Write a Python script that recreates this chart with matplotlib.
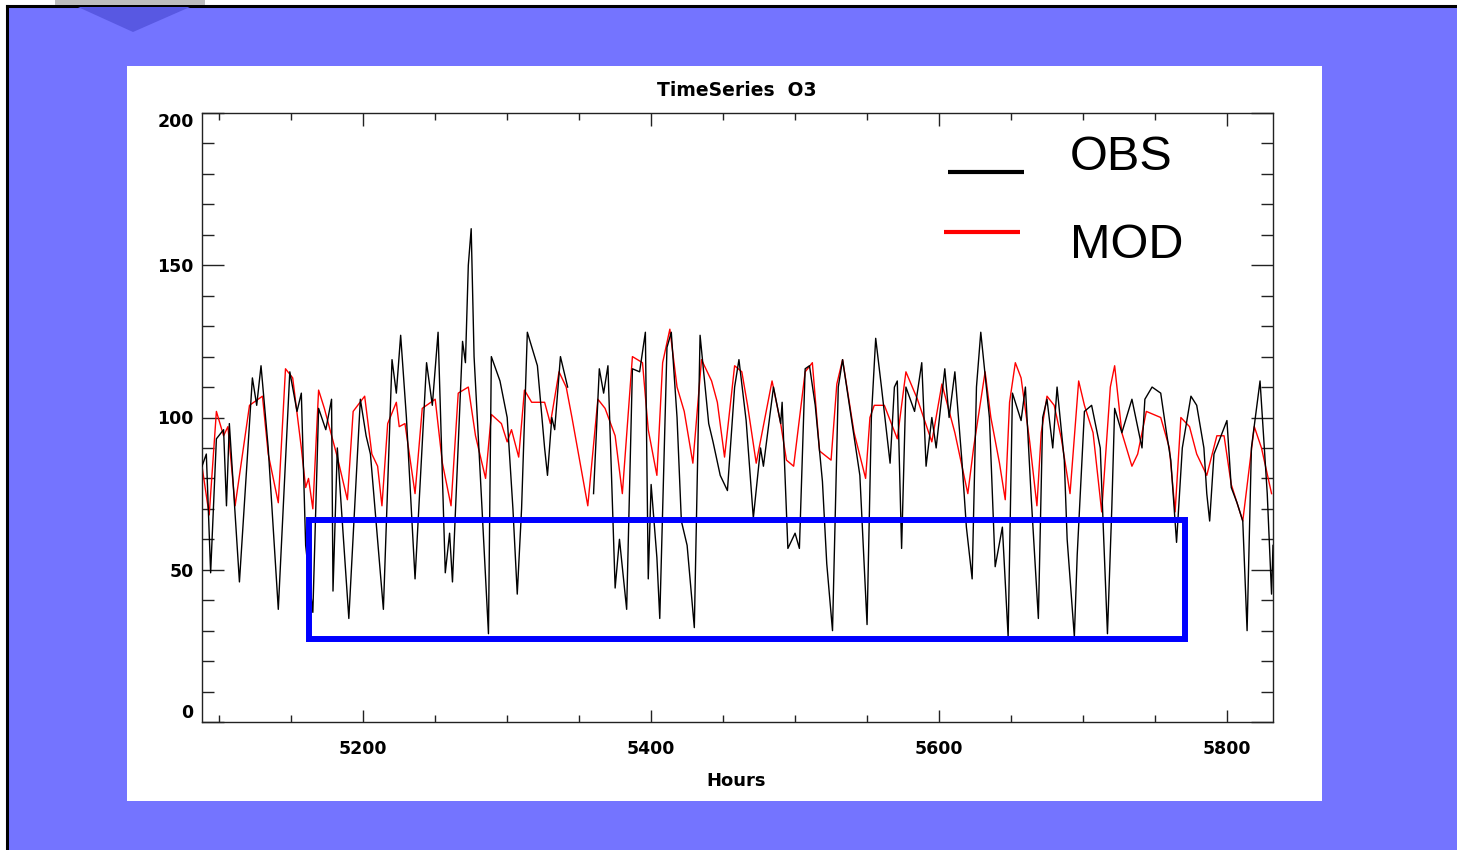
import numpy as np
import matplotlib
matplotlib.use("Agg")
import matplotlib.pyplot as plt
from matplotlib.patches import Rectangle, Polygon
from matplotlib.lines import Line2D
from matplotlib.ticker import MultipleLocator

# ================= data =================
obs_hours = [5088, 5091, 5094, 5098, 5103, 5105, 5107, 5114, 5123, 5126, 5129, 5134, 5141,
             5149, 5154, 5157, 5160, 5165, 5169, 5174, 5178, 5179, 5182, 5190, 5198, 5202,
             5205, 5214, 5220, 5223, 5226, 5230, 5236, 5244, 5248, 5252, 5257, 5260, 5262,
             5269, 5271, 5273, 5275, 5277, 5281, 5287, 5289, 5295, 5300, 5304, 5307, 5310,
             5314, 5321, 5326, 5328, 5331, 5333, 5337, 5342, 5350, 5360, 5364, 5367, 5370,
             5375, 5378, 5383, 5387, 5392, 5396, 5398, 5400, 5404, 5406, 5411, 5414, 5418,
             5421, 5425, 5430, 5434, 5440, 5443, 5448, 5453, 5458, 5461, 5466, 5471, 5476,
             5478, 5485, 5490, 5491, 5495, 5500, 5503, 5507, 5510, 5514, 5519, 5522, 5526,
             5530, 5533, 5539, 5545, 5550, 5553, 5556, 5560, 5566, 5569, 5571, 5574, 5577,
             5583, 5588, 5591, 5595, 5598, 5604, 5607, 5611, 5616, 5619, 5623, 5626, 5629,
             5635, 5639, 5644, 5648, 5651, 5657, 5660, 5664, 5669, 5672, 5675, 5679, 5682,
             5687, 5689, 5694, 5696, 5701, 5706, 5712, 5714, 5717, 5720, 5722, 5727, 5734,
             5741, 5743, 5748, 5754, 5758, 5761, 5765, 5769, 5775, 5779, 5784, 5786, 5788,
             5791, 5800, 5803, 5807, 5811, 5814, 5817, 5823, 5826, 5828, 5831, 5832]
obs_values = [84, 88, 49, 93, 96, 71, 98, 46, 113, 104, 117, 90, 37,
              115, 102, 108, 58, 36, 103, 96, 106, 43, 90, 34, 106, 94,
              88, 37, 119, 108, 127, 100, 47, 118, 104, 128, 49, 62, 46,
              125, 118, 150, 162, 120, 84, 29, 120, 112, 100, 70, 42, 70,
              128, 117, 90, 81, 100, 96, 120, 110, np.nan, 75, 116, 108, 117,
              44, 60, 37, 116, 115, 128, 47, 78, 54, 34, 123, 128, 100,
              66, 58, 31, 127, 98, 92, 81, 76, 110, 119, 99, 67, 90,
              84, 110, 98, 105, 57, 62, 57, 116, 117, 104, 79, 52, 30,
              110, 119, 100, 81, 32, 100, 126, 110, 85, 110, 112, 57, 110,
              102, 118, 84, 100, 90, 116, 100, 115, 85, 64, 47, 110, 128,
              100, 51, 64, 28, 108, 99, 110, 74, 34, 100, 106, 90, 110,
              86, 60, 28, 55, 102, 104, 90, 65, 29, 70, 103, 95, 106,
              90, 106, 110, 108, 95, 86, 59, 90, 107, 104, 90, 75, 66,
              88, 99, 77, 72, 66, 30, 90, 112, 90, 75, 42, 58]

mod_hours = [5088, 5093, 5098, 5103, 5106, 5111, 5121, 5130, 5134, 5141, 5146, 5151, 5157,
             5160, 5162, 5165, 5169, 5173, 5182, 5189, 5193, 5201, 5206, 5210, 5213, 5217,
             5223, 5225, 5229, 5236, 5241, 5250, 5255, 5261, 5266, 5273, 5278, 5285, 5289,
             5296, 5300, 5303, 5308, 5312, 5317, 5326, 5330, 5336, 5341, 5345, 5356, 5363,
             5368, 5375, 5380, 5387, 5394, 5398, 5404, 5408, 5413, 5418, 5423, 5429, 5435,
             5442, 5446, 5451, 5458, 5463, 5467, 5473, 5484, 5490, 5494, 5499, 5507, 5512,
             5517, 5525, 5529, 5533, 5541, 5549, 5552, 5555, 5562, 5571, 5577, 5585, 5595,
             5602, 5611, 5620, 5624, 5632, 5636, 5642, 5646, 5649, 5653, 5657, 5663, 5668,
             5671, 5675, 5680, 5685, 5691, 5697, 5701, 5707, 5713, 5719, 5722, 5727, 5734,
             5738, 5744, 5754, 5760, 5764, 5768, 5774, 5779, 5786, 5793, 5798, 5803, 5811,
             5819, 5824, 5831]
mod_values = [84, 68, 102, 94, 97, 71, 104, 107, 88, 72, 116, 113, 90,
              77, 80, 70, 109, 103, 87, 73, 102, 107, 88, 84, 71, 98,
              105, 97, 98, 75, 103, 106, 85, 71, 108, 110, 94, 80, 101,
              98, 92, 96, 87, 109, 105, 105, 98, 115, 110, 100, 71, 106,
              103, 94, 75, 120, 118, 96, 81, 118, 129, 110, 102, 85, 119,
              112, 105, 87, 117, 115, 104, 85, 112, 98, 86, 84, 115, 118,
              89, 86, 111, 119, 95, 80, 100, 104, 104, 93, 115, 106, 92,
              111, 95, 75, 90, 115, 100, 85, 73, 105, 118, 113, 92, 71,
              95, 107, 104, 93, 75, 112, 104, 95, 69, 110, 117, 95, 84,
              88, 102, 100, 90, 69, 100, 97, 88, 81, 94, 94, 78, 66,
              97, 90, 75]

# highlighted region (hours, O3)
box_hours = (5162, 5771)
box_o3 = (27.3, 66.4)

xticks_major = [5200, 5400, 5600, 5800]
yticks_major = [0, 50, 100, 150, 200]
# ===============================================================

W, H = 1457, 850
fig = plt.figure(figsize=(W / 100, H / 100), dpi=100, facecolor="white")

bg = "#7474ff"
# slide background with black frame on left/top
fig.patches.append(Rectangle((7 / W, 0), 1 - 7 / W, 1 - 6 / H, transform=fig.transFigure,
                             facecolor=bg, edgecolor="none", zorder=-5))
fig.lines.append(Line2D([7 / W, 7 / W], [0, 1 - 6 / H], transform=fig.transFigure,
                        color="black", lw=2.2, zorder=-4))
fig.lines.append(Line2D([7 / W, 1], [1 - 6 / H, 1 - 6 / H], transform=fig.transFigure,
                        color="black", lw=2.2, zorder=-4))
# decoration at top-left
fig.patches.append(Rectangle((55 / W, 1 - 5 / H), 150 / W, 5 / H, transform=fig.transFigure,
                             facecolor="#bdbdbd", edgecolor="none", zorder=-4))
fig.patches.append(Polygon([(78 / W, 1 - 7 / H), (190 / W, 1 - 7 / H), (133 / W, 1 - 32 / H)],
                           closed=True, transform=fig.transFigure,
                           facecolor="#5858e2", edgecolor="none", zorder=-4))
# white chart panel
fig.patches.append(Rectangle((127 / W, 1 - 801 / H), 1195 / W, 735 / H, transform=fig.transFigure,
                             facecolor="white", edgecolor="none", zorder=-3))

ax = fig.add_axes([202 / W, 1 - 722 / H, 1071 / W, 609 / H])
ax.set_zorder(5)
ax.set_facecolor("white")

ax.plot(obs_hours, obs_values, color="black", lw=1.0, zorder=3)
ax.plot(mod_hours, mod_values, color="red", lw=1.0, zorder=2)

ax.add_patch(Rectangle((box_hours[0], box_o3[0]), box_hours[1] - box_hours[0], box_o3[1] - box_o3[0],
                       facecolor="none", edgecolor="#0000ff", lw=4.3, zorder=4))

ax.set_xlim(5088, 5832)
ax.set_ylim(0, 200)

ax.set_xticks(xticks_major)
ax.set_yticks(yticks_major)
ax.xaxis.set_minor_locator(MultipleLocator(50))
ax.yaxis.set_minor_locator(MultipleLocator(10))

for sp in ax.spines.values():
    sp.set_linewidth(1.0)
    sp.set_color("#222222")

ax.tick_params(axis="x", which="major", direction="in", length=9, width=1, top=True,
               pad=13, labelsize=12.5, colors="#222222")
ax.tick_params(axis="x", which="minor", direction="in", length=5, width=1, top=True, colors="#222222")
ax.tick_params(axis="y", which="major", direction="in", length=16, width=1, right=True,
               pad=6, labelsize=12.5, colors="#222222")
ax.tick_params(axis="y", which="minor", direction="in", length=8.5, width=1, right=True, colors="#222222")

for lab in ax.get_xticklabels() + ax.get_yticklabels():
    lab.set_fontweight("bold")
    lab.set_color("black")
ylabs = ax.get_yticklabels()
ylabs[0].set_va("bottom")
ylabs[-1].set_va("top")

fig.text(737 / W, 1 - 90 / H, "TimeSeries  O3", ha="center", va="center",
         fontsize=13.5, fontweight="bold")
fig.text(736 / W, 1 - 781 / H, "Hours", ha="center", va="center",
         fontsize=13, fontweight="bold")

# legend
ax.plot([0.6965, 0.7675], [0.9031, 0.9031], transform=ax.transAxes, color="black",
        lw=3, solid_capstyle="butt", clip_on=False)
ax.plot([0.6928, 0.7638], [0.8046, 0.8046], transform=ax.transAxes, color="red",
        lw=3, solid_capstyle="butt", clip_on=False)
ax.text(0.8105, 0.9064, "OBS", transform=ax.transAxes, fontsize=35,
        family="Liberation Sans", va="baseline", ha="left")
ax.text(0.8105, 0.7619, "MOD", transform=ax.transAxes, fontsize=35,
        family="Liberation Sans", va="baseline", ha="left")

fig.savefig("out.png", dpi=100, facecolor=fig.get_facecolor())
